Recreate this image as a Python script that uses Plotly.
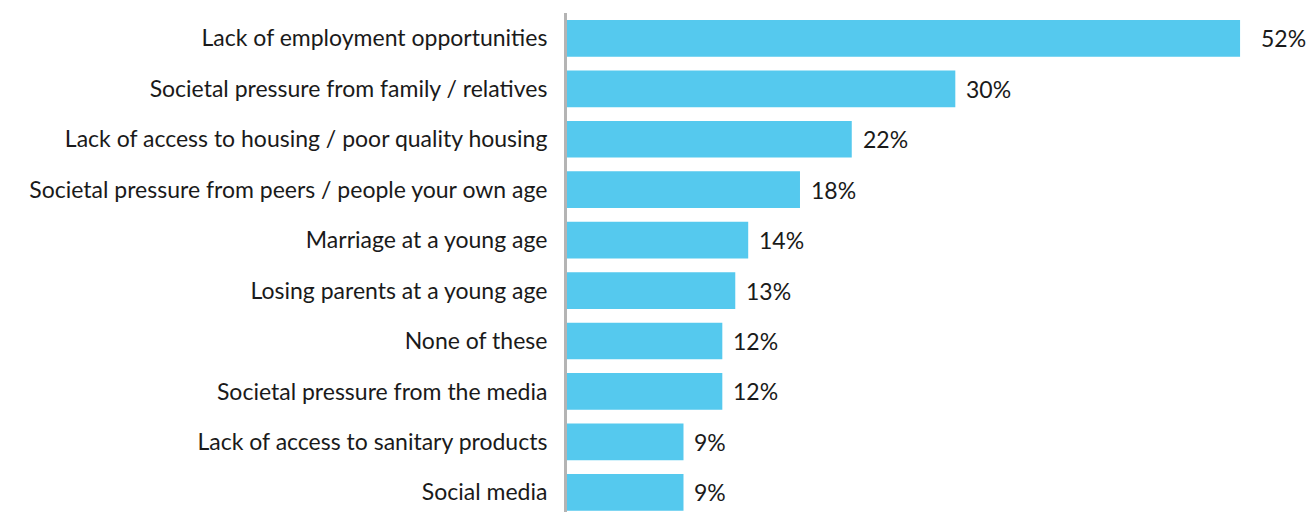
import plotly.graph_objects as go

categories = [
    "Lack of employment opportunities",
    "Societal pressure from family / relatives",
    "Lack of access to housing / poor quality housing",
    "Societal pressure from peers / people your own age",
    "Marriage at a young age",
    "Losing parents at a young age",
    "None of these",
    "Societal pressure from the media",
    "Lack of access to sanitary products",
    "Social media",
]
values = [52, 30, 22, 18, 14, 13, 12, 12, 9, 9]

BAR_COLOR = "#55C9EE"
TEXT_COLOR = "#1a1a1a"
FONT = "Lato, Roboto, sans-serif"
FONT_SIZE = 23

fig = go.Figure(
    go.Bar(
        x=values,
        y=categories,
        orientation="h",
        marker=dict(color=BAR_COLOR, line=dict(width=0)),
        width=0.728,
        hoverinfo="skip",
    )
)

# percentage labels just past the end of each bar; the longest bar gets more room
top = max(values)
for cat, val in zip(categories, values):
    fig.add_annotation(
        x=val, y=cat, text=f"{val}%", showarrow=False,
        xanchor="left", xshift=19 if val == top else 9, yanchor="middle",
        font=dict(family=FONT, size=FONT_SIZE, color=TEXT_COLOR),
    )

fig.update_layout(
    width=1310, height=512,
    margin=dict(l=567, r=10, t=13, b=0),
    paper_bgcolor="white", plot_bgcolor="white",
    showlegend=False,
    font=dict(family=FONT, size=FONT_SIZE, color=TEXT_COLOR),
    xaxis=dict(range=[0, 56.63], visible=False, fixedrange=True),
    yaxis=dict(
        range=[9.39, -0.503],
        showgrid=False, zeroline=False,
        showline=True, linecolor="#b4b4b4", linewidth=3,
        ticks="", ticklabelstandoff=12,
        tickfont=dict(family=FONT, size=FONT_SIZE, color=TEXT_COLOR),
        fixedrange=True,
    ),
)

fig.write_html("out.html")
